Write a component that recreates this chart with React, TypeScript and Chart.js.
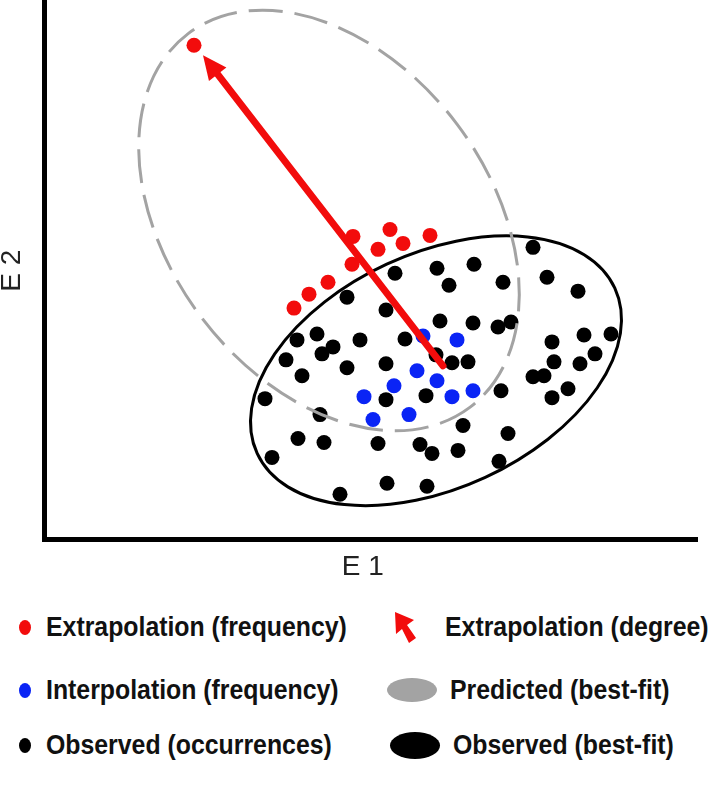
import React, { useEffect, useRef } from 'react';
import { Chart, registerables } from 'chart.js';

Chart.register(...registerables);

// Axis ranges (arbitrary units, no ticks shown)
const X_MIN = 0;
const X_MAX = 653;
const Y_MIN = 0;
const Y_MAX = 539;

const AXIS_X_TITLE = 'E 1';
const AXIS_Y_TITLE = 'E 2';

// Extrapolation (frequency) points
const extrapolationX = [309, 346, 359, 386, 334, 308, 284, 265, 250, 150];
const extrapolationY = [304, 311, 297, 305, 291, 276, 258, 246, 232, 496];

// Interpolation (frequency) points
const interpolationX = [379, 413, 373, 393, 350, 320, 408, 429, 329, 365];
const interpolationY = [204, 200, 169, 159, 154, 143, 143, 149, 120, 125];

// Observed (occurrences) points
const observedX = [
  489, 393, 430, 351, 405, 459, 503, 534, 303, 342, 253, 273, 289, 278, 316, 361, 242, 303, 342, 258,
  396, 429, 454, 467, 392, 408, 424, 508, 540, 567, 510, 536, 551, 489, 500, 524, 508, 457, 221, 276,
  342, 382, 254, 280, 334, 376, 388, 228, 343, 383, 296, 419, 414, 455, 464,
];
const observedY = [
  293, 272, 276, 267, 255, 258, 263, 249, 243, 230, 200, 206, 193, 186, 200, 201, 180, 172, 176, 164,
  219, 217, 213, 218, 185, 177, 178, 198, 205, 206, 178, 176, 186, 163, 164, 151, 142, 149, 141, 125,
  140, 144, 101, 97, 96, 95, 86, 82, 56, 53, 45, 114, 89, 78, 106,
];

// Extrapolation (degree) arrow: tail -> head
const arrowTail = [399, 174];
const arrowHead = [159, 486];

// Best-fit ellipses: centre, semi-axes, rotation (deg, counter-clockwise)
const predictedEllipse = { cx: 285, cy: 320, rx: 234, ry: 161, angle: -53 };
const observedEllipse = { cx: 392, cy: 169, rx: 197, ry: 118, angle: 24.8 };

const RED = '#f20c0c';
const BLUE = '#0a24f5';
const BLACK = '#000000';
const GRAY = '#a3a3a3';

const toPoints = (xs: number[], ys: number[]) => xs.map((x, i) => ({ x, y: ys[i] }));

const overlayPlugin = {
  id: 'overlay',
  afterDatasetsDraw(chart: any) {
    const { ctx, scales } = chart;
    const xs = scales.x;
    const ys = scales.y;
    const drawEllipse = (e: any, color: string, width: number, dash: number[], dashOffset: number) => {
      const cx = xs.getPixelForValue(e.cx);
      const cy = ys.getPixelForValue(e.cy);
      const rx = Math.abs(xs.getPixelForValue(e.cx + e.rx) - cx);
      const ry = Math.abs(ys.getPixelForValue(e.cy + e.ry) - cy);
      ctx.save();
      ctx.beginPath();
      ctx.ellipse(cx, cy, rx, ry, (-e.angle * Math.PI) / 180, 0, Math.PI * 2);
      ctx.strokeStyle = color;
      ctx.lineWidth = width;
      ctx.setLineDash(dash);
      ctx.lineDashOffset = dashOffset;
      ctx.stroke();
      ctx.restore();
    };
    drawEllipse(observedEllipse, BLACK, 3, [], 0);
    drawEllipse(predictedEllipse, GRAY, 3, [34, 12], 0);

    // arrow
    const tx = xs.getPixelForValue(arrowTail[0]);
    const ty = ys.getPixelForValue(arrowTail[1]);
    const hx = xs.getPixelForValue(arrowHead[0]);
    const hy = ys.getPixelForValue(arrowHead[1]);
    const ang = Math.atan2(hy - ty, hx - tx);
    const headLen = 24;
    const headHalf = 11;
    const bx = hx - Math.cos(ang) * headLen;
    const by = hy - Math.sin(ang) * headLen;
    ctx.save();
    ctx.strokeStyle = RED;
    ctx.fillStyle = RED;
    ctx.lineWidth = 7;
    ctx.lineCap = 'round';
    ctx.beginPath();
    ctx.moveTo(tx, ty);
    ctx.lineTo(bx + Math.cos(ang) * 4, by + Math.sin(ang) * 4);
    ctx.stroke();
    ctx.beginPath();
    ctx.moveTo(hx, hy);
    ctx.lineTo(bx - Math.sin(ang) * headHalf, by + Math.cos(ang) * headHalf);
    ctx.lineTo(bx + Math.sin(ang) * headHalf, by - Math.cos(ang) * headHalf);
    ctx.closePath();
    ctx.fill();
    ctx.restore();
  },
};

function ChartView() {
  const ref = useRef<HTMLCanvasElement | null>(null);
  useEffect(() => {
    if (!ref.current) return;
    const chart = new Chart(ref.current, {
      type: 'scatter',
      data: {
        datasets: [
          {
            label: 'Extrapolation (frequency)',
            data: toPoints(extrapolationX, extrapolationY),
            backgroundColor: RED,
            borderWidth: 0,
            pointRadius: 7.5,
          },
          {
            label: 'Interpolation (frequency)',
            data: toPoints(interpolationX, interpolationY),
            backgroundColor: BLUE,
            borderWidth: 0,
            pointRadius: 7.5,
          },
          {
            label: 'Observed (occurrences)',
            data: toPoints(observedX, observedY),
            backgroundColor: BLACK,
            borderWidth: 0,
            pointRadius: 7.5,
          },
        ],
      },
      options: {
        animation: false,
        responsive: true,
        maintainAspectRatio: false,
        layout: { padding: { left: 0, right: 12, top: 0, bottom: 0 } },
        plugins: { legend: { display: false }, tooltip: { enabled: false } },
        scales: {
          x: {
            type: 'linear',
            min: X_MIN,
            max: X_MAX,
            ticks: { display: false },
            grid: { display: false, drawTicks: false },
            border: { display: true, color: BLACK, width: 5 },
            title: {
              display: true,
              text: AXIS_X_TITLE + '\u00a0\u00a0',
              color: '#222',
              font: { family: 'Liberation Sans, Arial, sans-serif', size: 28, lineHeight: 1.2 },
              padding: { top: 11.4, bottom: 16 },
            },
          },
          y: {
            type: 'linear',
            min: Y_MIN,
            max: Y_MAX,
            ticks: { display: false },
            grid: { display: false, drawTicks: false },
            border: { display: true, color: BLACK, width: 5 },
            title: {
              display: true,
              text: AXIS_Y_TITLE,
              color: '#222',
              font: { family: 'Liberation Sans, Arial, sans-serif', size: 28, lineHeight: 1 },
              padding: { top: -2, bottom: 18 },
            },
          },
        },
      },
      plugins: [overlayPlugin],
    });
    return () => chart.destroy();
  }, []);
  return (
    <div style={{ position: 'absolute', left: 0, top: -5, width: 709, height: 605 }}>
      <canvas ref={ref} />
    </div>
  );
}

const legendFont: React.CSSProperties = {
  position: 'absolute',
  fontFamily: 'Liberation Sans, Arial, sans-serif',
  fontWeight: 'bold',
  fontSize: 27,
  lineHeight: '30px',
  color: '#111',
  whiteSpace: 'nowrap',
  transform: 'scaleX(0.92)',
  transformOrigin: 'left center',
};

function Dot({ x, y, color }: { x: number; y: number; color: string }) {
  return (
    <div
      style={{
        position: 'absolute',
        left: x - 6,
        top: y - 7.5,
        width: 12,
        height: 15,
        borderRadius: '50%',
        background: color,
      }}
    />
  );
}

function Oval({ x, y, w, h, color }: { x: number; y: number; w: number; h: number; color: string }) {
  return (
    <div
      style={{
        position: 'absolute',
        left: x - w / 2,
        top: y - h / 2,
        width: w,
        height: h,
        borderRadius: '50%',
        background: color,
      }}
    />
  );
}

function Legend() {
  const rows = [627, 690, 745];
  return (
    <>
      <Dot x={25} y={rows[0]} color={RED} />
      <div style={{ ...legendFont, left: 46, top: rows[0] - 15 }}>Extrapolation (frequency)</div>
      <svg style={{ position: 'absolute', left: 393, top: 611 }} width={28} height={34}>
        <polygon points="2,1 21,9 14,14 23,27 16,32 9,18 3,23" fill={RED} />
      </svg>
      <div style={{ ...legendFont, left: 445, top: rows[0] - 15 }}>Extrapolation (degree)</div>

      <Dot x={25} y={rows[1]} color={BLUE} />
      <div style={{ ...legendFont, left: 46, top: rows[1] - 15 }}>Interpolation (frequency)</div>
      <Oval x={412} y={rows[1]} w={50} h={24} color={GRAY} />
      <div style={{ ...legendFont, left: 450, top: rows[1] - 15 }}>Predicted (best-fit)</div>

      <Dot x={25} y={rows[2]} color={BLACK} />
      <div style={{ ...legendFont, left: 46, top: rows[2] - 15 }}>Observed (occurrences)</div>
      <Oval x={415} y={rows[2]} w={50} h={27} color={BLACK} />
      <div style={{ ...legendFont, left: 453, top: rows[2] - 15 }}>Observed (best-fit)</div>
    </>
  );
}

export default function App() {
  return (
    <div style={{ position: 'absolute', left: 0, top: 0, width: 709, height: 787, background: '#fff', overflow: 'hidden' }}>
      <ChartView />
      <Legend />
    </div>
  );
}
